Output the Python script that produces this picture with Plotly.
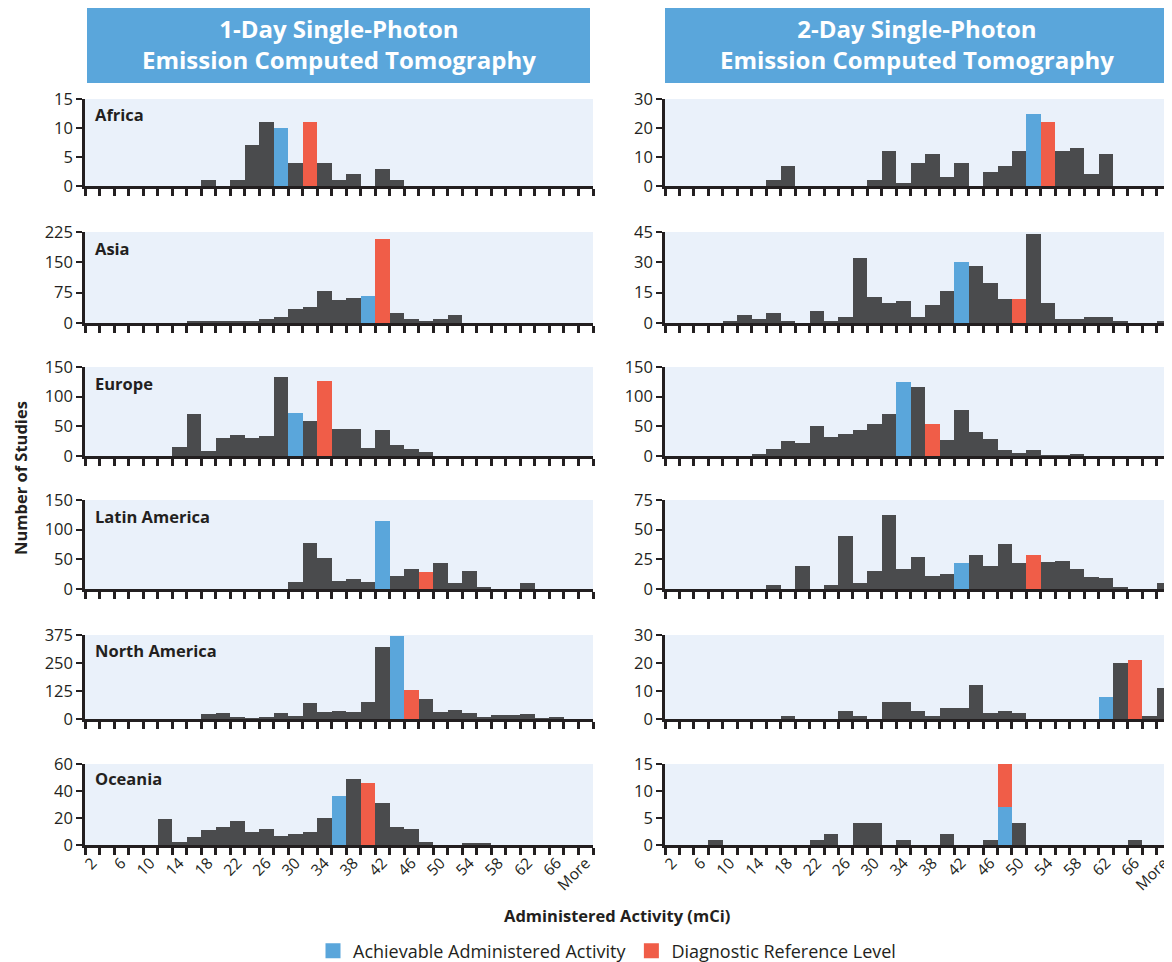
import plotly.graph_objects as go

# ---------------- data ----------------
categories = ["2", "4", "6", "8", "10", "12", "14", "16", "18", "20", "22", "24",
              "26", "28", "30", "32", "34", "36", "38", "40", "42", "44", "46", "48",
              "50", "52", "54", "56", "58", "60", "62", "64", "66", "68", "More"]
shown_tick_labels = ["2", "6", "10", "14", "18", "22", "26", "30", "34", "38", "42",
                     "46", "50", "54", "58", "62", "66", "More"]

regions = ["Africa", "Asia", "Europe", "Latin America", "North America", "Oceania"]

africa_1day = [0, 0, 0, 0, 0, 0, 0, 0, 1, 0, 1, 7, 11, 10, 4, 11, 4, 1, 2, 0, 3, 1,
               0, 0, 0, 0, 0, 0, 0, 0, 0, 0, 0, 0, 0]
asia_1day = [0, 0, 0, 0, 0, 0, 0, 3, 3, 3, 3, 3, 9, 16, 34, 39, 80, 57, 62, 67, 207,
             24, 9, 4, 10, 21, 0, 0, 0, 0, 0, 0, 0, 0, 0]
europe_1day = [0, 0, 0, 0, 0, 0, 15, 71, 8, 30, 35, 30, 34, 133, 72, 59, 126, 45, 45,
               13, 44, 18, 12, 6, 0, 0, 0, 0, 0, 0, 0, 0, 0, 0, 0]
latin_1day = [0, 0, 0, 0, 0, 0, 0, 0, 0, 0, 0, 0, 0, 0, 12, 77, 53, 14, 17, 12, 115,
              22, 34, 29, 44, 10, 31, 3, 0, 0, 10, 0, 0, 0, 0]
namerica_1day = [0, 0, 0, 0, 0, 0, 0, 0, 24, 28, 10, 3, 11, 28, 14, 71, 30, 34, 30, 75,
                 320, 372, 129, 89, 33, 39, 28, 6, 16, 16, 24, 3, 10, 0, 0]
oceania_1day = [0, 0, 0, 0, 0, 19, 2, 6, 11, 13, 18, 10, 12, 7, 8, 10, 20, 36, 49, 46,
                31, 13, 12, 2, 0, 0, 1, 1, 0, 0, 0, 0, 0, 0, 0]

africa_2day = [0, 0, 0, 0, 0, 0, 0, 2, 7, 0, 0, 0, 0, 0, 2, 12, 1, 8, 11, 3, 8, 0, 5,
               7, 12, 25, 22, 12, 13, 4, 11, 0, 0, 0, 0]
asia_2day = [0, 0, 0, 0, 1, 4, 2, 5, 1, 0, 6, 1, 3, 32, 13, 10, 11, 3, 9, 16, 30, 28,
             20, 12, 12, 44, 10, 2, 2, 3, 3, 1, 0, 0, 1]
europe_2day = [0, 0, 0, 0, 0, 0, 3, 12, 25, 22, 50, 32, 37, 44, 54, 71, 124, 116, 54,
               27, 77, 40, 29, 10, 5, 10, 1, 1, 3, 0, 0, 0, 0, 0, 0]
latin_2day = [0, 0, 0, 0, 0, 0, 0, 3, 0, 19, 0, 3, 45, 5, 15, 62, 17, 27, 11, 13, 22,
              29, 19, 38, 22, 29, 23, 24, 17, 10, 9, 1, 0, 0, 5]
namerica_2day = [0, 0, 0, 0, 0, 0, 0, 0, 1, 0, 0, 0, 3, 1, 0, 6, 6, 3, 1, 4, 4, 12, 2,
                 3, 2, 0, 0, 0, 0, 0, 8, 20, 21, 1, 11]
oceania_2day = [0, 0, 0, 1, 0, 0, 0, 0, 0, 0, 1, 2, 0, 4, 4, 0, 1, 0, 0, 2, 0, 0, 1,
                15, 4, 0, 0, 0, 0, 0, 0, 0, 1, 0, 0]

# bins holding the Achievable Administered Activity / Diagnostic Reference Level
aaa_bin_1day = ["28", "40", "30", "42", "44", "36"]
drl_bin_1day = ["32", "42", "34", "48", "46", "40"]
aaa_bin_2day = ["52", "42", "34", "42", "62", "48"]
drl_bin_2day = ["54", "50", "38", "52", "66", "48"]
# when both share a bin (Oceania 2-day), part of the bar that is AAA
shared_bin_aaa_part = 7

yticks_1day = [[0, 5, 10, 15], [0, 75, 150, 225], [0, 50, 100, 150],
               [0, 50, 100, 150], [0, 125, 250, 375], [0, 20, 40, 60]]
yticks_2day = [[0, 10, 20, 30], [0, 15, 30, 45], [0, 50, 100, 150],
               [0, 25, 50, 75], [0, 10, 20, 30], [0, 5, 10, 15]]

panel_titles = ["1-Day Single-Photon<br>Emission Computed Tomography",
                "2-Day Single-Photon<br>Emission Computed Tomography"]

# ---------------- style ----------------
# page body has an 8px margin; figure fills the window from that offset
W, H = 1164, 954
INK = "#231f20"
DARK = "#4a4b4d"
BLUE = "#5aa6db"
RED = "#f05d48"
BG = "#eaf1fa"
FONT = "Open Sans, sans-serif"

row_px = [(91, 178), (224, 315), (359, 448), (492, 581), (627, 711), (756, 837)]
col_px = [(77, 585), (657, 1163)]

ticktext = [c if c in shown_tick_labels else "" for c in categories]

columns = [
    ([africa_1day, asia_1day, europe_1day, latin_1day, namerica_1day, oceania_1day],
     aaa_bin_1day, drl_bin_1day, yticks_1day),
    ([africa_2day, asia_2day, europe_2day, latin_2day, namerica_2day, oceania_2day],
     aaa_bin_2day, drl_bin_2day, yticks_2day),
]

fig = go.Figure()
layout = {}
annotations = []

for c, (series, aaa_bins, drl_bins, yticks) in enumerate(columns):
    for r in range(6):
        n = r * 2 + c + 1
        xs = "x" if n == 1 else f"x{n}"
        ys = "y" if n == 1 else f"y{n}"
        counts = series[r]
        bi = categories.index(aaa_bins[r])
        di = categories.index(drl_bins[r])
        dark = list(counts)
        blue = [None] * len(counts)
        red = [None] * len(counts)
        dark[bi] = None
        dark[di] = None
        if bi == di:
            blue[bi] = shared_bin_aaa_part
            red[di] = counts[di] - shared_bin_aaa_part
        else:
            blue[bi] = counts[bi]
            red[di] = counts[di]
        for vals, col in ((dark, DARK), (blue, BLUE), (red, RED)):
            fig.add_trace(go.Bar(x=categories, y=vals, xaxis=xs, yaxis=ys,
                                 marker=dict(color=col, line=dict(width=0)),
                                 showlegend=False, hoverinfo="x+y"))
        x0, x1 = col_px[c]
        t, b = row_px[r]
        xkey = "xaxis" if n == 1 else f"xaxis{n}"
        ykey = "yaxis" if n == 1 else f"yaxis{n}"
        layout[xkey] = dict(
            domain=[x0 / W, x1 / W], anchor=ys, type="category",
            categoryorder="array", categoryarray=categories,
            range=[-0.5, len(categories) - 0.5],
            tickmode="array", tickvals=categories, ticktext=ticktext,
            tickson="boundaries", ticks="outside", ticklen=7, tickwidth=2.5,
            tickcolor=INK, showline=True, linewidth=3, linecolor=INK,
            showgrid=False, zeroline=False, showticklabels=(r == 5),
            tickangle=-45, tickfont=dict(size=15.5, color=INK, family=FONT),
            automargin=False)
        layout[ykey] = dict(
            domain=[1 - b / H, 1 - t / H], anchor=xs,
            range=[0, max(yticks[r])], tickmode="array", tickvals=yticks[r],
            ticks="outside", ticklen=6, tickwidth=2, tickcolor=INK,
            showline=True, linewidth=2.5, linecolor=INK, showgrid=False,
            zeroline=False, tickfont=dict(size=16.5, color=INK, family=FONT),
            automargin=False)
        if c == 0:
            annotations.append(dict(
                text=f"<b>{regions[r]}</b>", xref=f"{xs} domain", yref=f"{ys} domain",
                x=0.016, y=0.82, xanchor="left", yanchor="middle", showarrow=False,
                font=dict(size=16.5, color=INK, family=FONT)))

# legend entries
fig.add_trace(go.Scatter(x=[None], y=[None], mode="markers", name="Achievable Administered Activity",
                         marker=dict(symbol="square", size=15, color=BLUE)))
fig.add_trace(go.Scatter(x=[None], y=[None], mode="markers", name="Diagnostic Reference Level",
                         marker=dict(symbol="square", size=15, color=RED)))

# header boxes
shapes = []
header_px = [(79, 582), (657, 1160)]
for i, (hx0, hx1) in enumerate(header_px):
    shapes.append(dict(type="rect", xref="paper", yref="paper",
                       x0=hx0 / W, x1=hx1 / W, y0=1 - 75 / H, y1=1.0,
                       fillcolor=BLUE, line=dict(width=0), layer="below"))
    annotations.append(dict(text=f"<b>{panel_titles[i]}</b>", xref="paper", yref="paper",
                            x=(hx0 + hx1) / 2 / W, y=1 - 36 / H,
                            xanchor="center", yanchor="middle", showarrow=False,
                            font=dict(size=24, color="white", family=FONT)))

annotations.append(dict(text="<b>Number of Studies</b>", xref="paper", yref="paper",
                        x=12 / W, y=1 - 470 / H, textangle=-90, showarrow=False,
                        xanchor="center", yanchor="middle",
                        font=dict(size=16.5, color=INK, family=FONT)))
annotations.append(dict(text="<b>Administered Activity (mCi)</b>", xref="paper", yref="paper",
                        x=609 / W, y=1 - 907 / H, showarrow=False,
                        xanchor="center", yanchor="middle",
                        font=dict(size=16.5, color=INK, family=FONT)))

fig.update_layout(
    **layout,
    template="none",
    width=W, height=H,
    margin=dict(l=0, r=0, t=0, b=0, autoexpand=False),
    paper_bgcolor="white", plot_bgcolor=BG,
    barmode="stack", bargap=0,
    font=dict(family=FONT, color=INK),
    shapes=shapes, annotations=annotations,
    showlegend=True,
    legend=dict(orientation="h", x=599 / W, y=1 - 943 / H, xanchor="center", yanchor="middle",
                traceorder="normal",
                font=dict(size=18, color=INK, family=FONT), itemsizing="trace",
                bgcolor="rgba(0,0,0,0)", tracegroupgap=0),
)

fig.write_html("out.html")
